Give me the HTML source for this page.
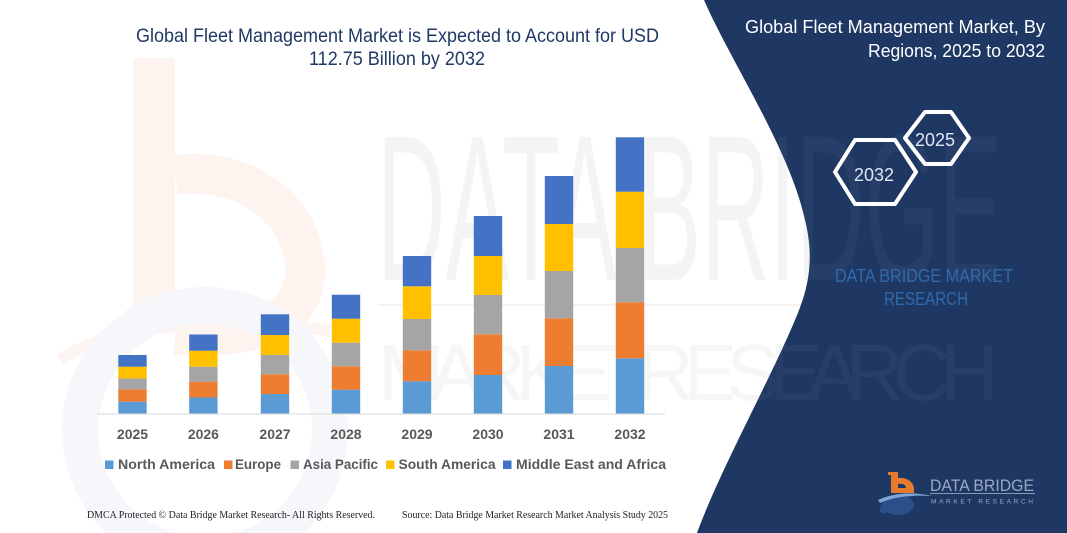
<!DOCTYPE html>
<html>
<head>
<meta charset="utf-8">
<style>
  html,body{margin:0;padding:0;background:#ffffff;}
  body{width:1067px;height:533px;overflow:hidden;}
  svg{display:block;}
</style>
</head>
<body>
<svg width="1067" height="533" viewBox="0 0 1067 533" xmlns="http://www.w3.org/2000/svg">
  <rect x="0" y="0" width="1067" height="533" fill="#ffffff"/>

  <!-- faint left "b" watermark -->
  <g>
    <rect x="133" y="58" width="42" height="265" fill="#fdf4ef"/>
    <path d="M175,175 C250,165 305,215 305,270 C305,320 260,340 175,335" fill="none" stroke="#fdf4ef" stroke-width="40"/>
    <path d="M60,360 C120,320 220,320 330,330" fill="none" stroke="#fdf5f1" stroke-width="12"/>
    <circle cx="205" cy="430" r="125" fill="none" stroke="#f5f7fb" stroke-width="36"/>
  </g>

  <!-- faint DATA BRIDGE watermark -->
  <text x="377" y="280" font-family="Liberation Sans, sans-serif" font-size="208" textLength="625" lengthAdjust="spacingAndGlyphs" fill="#f4f4f4">DATA BRIDGE</text>
  <rect x="378" y="304" width="620" height="2" fill="#f7f2ee"/>
  <text x="378" y="400" font-family="Liberation Sans, sans-serif" font-size="80" textLength="620" lengthAdjust="spacing" fill="#f6f6f6">M A R K E T  R E S E A R C H</text>

  <!-- right dark panel -->
  <path d="M704,0 C730,60 790,150 805,220 C815,260 808,290 795,320 C770,380 720,470 697,533 L1067,533 L1067,0 Z" fill="#1f3763"/>

  <!-- faint watermark in panel -->
  <g opacity="0.03">
    <text x="377" y="280" font-family="Liberation Sans, sans-serif" font-size="208" textLength="625" lengthAdjust="spacingAndGlyphs" fill="#ffffff">DATA BRIDGE</text>
    <text x="378" y="400" font-family="Liberation Sans, sans-serif" font-size="80" textLength="620" lengthAdjust="spacing" fill="#ffffff">M A R K E T  R E S E A R C H</text>
  </g>

  <!-- left title -->
  <g font-family="Liberation Sans, sans-serif" font-size="19" fill="#1f3864">
    <text x="136" y="42" textLength="523" lengthAdjust="spacingAndGlyphs">Global Fleet Management Market is Expected to Account for USD</text>
    <text x="309" y="65" textLength="176" lengthAdjust="spacingAndGlyphs">112.75 Billion by 2032</text>
  </g>

  <!-- right title -->
  <g font-family="Liberation Sans, sans-serif" font-size="18" fill="#ffffff">
    <text x="745" y="33" textLength="300" lengthAdjust="spacingAndGlyphs">Global Fleet Management Market, By</text>
    <text x="868" y="57" textLength="177" lengthAdjust="spacingAndGlyphs">Regions, 2025 to 2032</text>
  </g>

  <!-- hexagons -->
  <polygon points="905,138 925,112 951,112 969,138 951,164 925,164" fill="none" stroke="#ffffff" stroke-width="4" stroke-linejoin="round"/>
  <polygon points="835,172 855,140 895,140 916,172 895,204 855,204" fill="none" stroke="#ffffff" stroke-width="4" stroke-linejoin="round"/>
  <g font-family="Liberation Sans, sans-serif" font-size="18" fill="#dfe7f3" text-anchor="middle">
    <text x="935" y="146">2025</text>
    <text x="874" y="181">2032</text>
  </g>

  <!-- DATA BRIDGE MARKET RESEARCH -->
  <g font-family="Liberation Sans, sans-serif" font-size="18" fill="#2f6aad">
    <text x="835" y="282" textLength="178" lengthAdjust="spacingAndGlyphs">DATA BRIDGE MARKET</text>
    <text x="884" y="305" textLength="84" lengthAdjust="spacingAndGlyphs">RESEARCH</text>
  </g>

  <!-- bottom-right logo -->
  <g>
    <path d="M880,512 C878,500 895,494 915,496 C900,498 888,504 886,514 Z" fill="#2c4f86"/>
    <ellipse cx="898" cy="505" rx="16" ry="10" fill="#2b4f88"/>
    <path d="M878,500 C895,492 915,492 932,496 C915,495 895,496 880,503 Z" fill="#7fa7d6"/>
    <rect x="891" y="472" width="7" height="21" fill="#e87a2f"/>
    <rect x="888" y="472" width="6" height="3" fill="#e87a2f"/>
    <path d="M898,478 C908,477 914,483 914,489 L914,493 L898,493 L898,488 L906,488 C906,485 903,483 898,484 Z" fill="#e87a2f"/>
    <text x="930" y="491" font-family="Liberation Sans, sans-serif" font-size="16.5" fill="#9aa9c0" textLength="104" lengthAdjust="spacingAndGlyphs">DATA BRIDGE</text>
    <rect x="930" y="493" width="105" height="1" fill="#8a9ab5"/>
    <text x="931" y="503.5" font-family="Liberation Sans, sans-serif" font-size="6.5" fill="#9aa9c0" textLength="102" lengthAdjust="spacing">MARKET RESEARCH</text>
  </g>

  <!-- axis -->
  <rect x="97" y="413.5" width="568" height="1" fill="#d9d9d9"/>

  <!-- bars -->
  <g>
    <!-- 2025 -->
    <rect x="118.3" y="401.7" width="28.4" height="11.8" fill="#5b9bd5"/>
    <rect x="118.3" y="389.3" width="28.4" height="12.4" fill="#ed7d31"/>
    <rect x="118.3" y="378.5" width="28.4" height="10.8" fill="#a5a5a5"/>
    <rect x="118.3" y="366.7" width="28.4" height="11.8" fill="#ffc000"/>
    <rect x="118.3" y="355" width="28.4" height="11.7" fill="#4472c4"/>
    <!-- 2026 -->
    <rect x="189.2" y="397.5" width="28.4" height="16" fill="#5b9bd5"/>
    <rect x="189.2" y="381.7" width="28.4" height="15.8" fill="#ed7d31"/>
    <rect x="189.2" y="366.7" width="28.4" height="15" fill="#a5a5a5"/>
    <rect x="189.2" y="350.7" width="28.4" height="16" fill="#ffc000"/>
    <rect x="189.2" y="334.5" width="28.4" height="16.2" fill="#4472c4"/>
    <!-- 2027 -->
    <rect x="260.8" y="394" width="28.4" height="19.5" fill="#5b9bd5"/>
    <rect x="260.8" y="374.3" width="28.4" height="19.7" fill="#ed7d31"/>
    <rect x="260.8" y="355" width="28.4" height="19.3" fill="#a5a5a5"/>
    <rect x="260.8" y="335" width="28.4" height="20" fill="#ffc000"/>
    <rect x="260.8" y="314.3" width="28.4" height="20.7" fill="#4472c4"/>
    <!-- 2028 -->
    <rect x="331.8" y="389.7" width="28.4" height="23.8" fill="#5b9bd5"/>
    <rect x="331.8" y="366.3" width="28.4" height="23.4" fill="#ed7d31"/>
    <rect x="331.8" y="342.7" width="28.4" height="23.6" fill="#a5a5a5"/>
    <rect x="331.8" y="318.7" width="28.4" height="24" fill="#ffc000"/>
    <rect x="331.8" y="294.7" width="28.4" height="24" fill="#4472c4"/>
    <!-- 2029 -->
    <rect x="402.8" y="381.3" width="28.4" height="32.2" fill="#5b9bd5"/>
    <rect x="402.8" y="350.3" width="28.4" height="31" fill="#ed7d31"/>
    <rect x="402.8" y="319" width="28.4" height="31.3" fill="#a5a5a5"/>
    <rect x="402.8" y="286.3" width="28.4" height="32.7" fill="#ffc000"/>
    <rect x="402.8" y="256" width="28.4" height="30.3" fill="#4472c4"/>
    <!-- 2030 -->
    <rect x="473.8" y="375" width="28.4" height="38.5" fill="#5b9bd5"/>
    <rect x="473.8" y="334.3" width="28.4" height="40.7" fill="#ed7d31"/>
    <rect x="473.8" y="295" width="28.4" height="39.3" fill="#a5a5a5"/>
    <rect x="473.8" y="256" width="28.4" height="39" fill="#ffc000"/>
    <rect x="473.8" y="216" width="28.4" height="40" fill="#4472c4"/>
    <!-- 2031 -->
    <rect x="544.8" y="366" width="28.4" height="47.5" fill="#5b9bd5"/>
    <rect x="544.8" y="318.3" width="28.4" height="47.7" fill="#ed7d31"/>
    <rect x="544.8" y="271" width="28.4" height="47.3" fill="#a5a5a5"/>
    <rect x="544.8" y="224" width="28.4" height="47" fill="#ffc000"/>
    <rect x="544.8" y="176" width="28.4" height="48" fill="#4472c4"/>
    <!-- 2032 -->
    <rect x="615.8" y="358.3" width="28.4" height="55.2" fill="#5b9bd5"/>
    <rect x="615.8" y="302.3" width="28.4" height="56" fill="#ed7d31"/>
    <rect x="615.8" y="248" width="28.4" height="54.3" fill="#a5a5a5"/>
    <rect x="615.8" y="191.7" width="28.4" height="56.3" fill="#ffc000"/>
    <rect x="615.8" y="137.3" width="28.4" height="54.4" fill="#4472c4"/>
  </g>

  <!-- year labels -->
  <g font-family="Liberation Sans, sans-serif" font-size="14" font-weight="bold" fill="#595959" text-anchor="middle">
    <text x="132.5" y="439">2025</text>
    <text x="203.4" y="439">2026</text>
    <text x="275" y="439">2027</text>
    <text x="346" y="439">2028</text>
    <text x="417" y="439">2029</text>
    <text x="488" y="439">2030</text>
    <text x="559" y="439">2031</text>
    <text x="630" y="439">2032</text>
  </g>

  <!-- legend -->
  <g font-family="Liberation Sans, sans-serif" font-size="14" font-weight="bold" fill="#595959">
    <rect x="105" y="460.5" width="8.5" height="8.5" fill="#5b9bd5"/>
    <text x="118" y="469" textLength="97" lengthAdjust="spacingAndGlyphs">North America</text>
    <rect x="224" y="460.5" width="8.5" height="8.5" fill="#ed7d31"/>
    <text x="235" y="469" textLength="46" lengthAdjust="spacingAndGlyphs">Europe</text>
    <rect x="290.5" y="460.5" width="8.5" height="8.5" fill="#a5a5a5"/>
    <text x="303" y="469" textLength="75" lengthAdjust="spacingAndGlyphs">Asia Pacific</text>
    <rect x="386" y="460.5" width="8.5" height="8.5" fill="#ffc000"/>
    <text x="398.5" y="469" textLength="97" lengthAdjust="spacingAndGlyphs">South America</text>
    <rect x="503" y="460.5" width="8.5" height="8.5" fill="#4472c4"/>
    <text x="516" y="469" textLength="150" lengthAdjust="spacingAndGlyphs">Middle East and Africa</text>
  </g>

  <!-- footer -->
  <g font-family="Liberation Serif, serif" font-size="10.5" fill="#222222">
    <text x="87" y="518" textLength="288" lengthAdjust="spacingAndGlyphs">DMCA Protected © Data Bridge Market Research-  All Rights Reserved.</text>
    <text x="402" y="518" textLength="266" lengthAdjust="spacingAndGlyphs">Source: Data Bridge Market Research  Market Analysis Study 2025</text>
  </g>
</svg>
</body>
</html>
